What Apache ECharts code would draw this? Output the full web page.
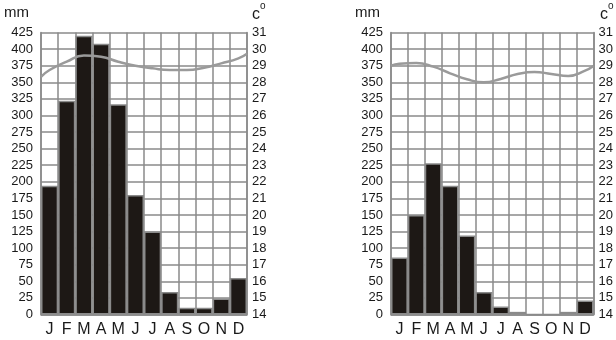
<!DOCTYPE html>
<html><head><meta charset="utf-8">
<script src="https://cdn.jsdelivr.net/npm/echarts@6/dist/echarts.min.js"></script>
<style>html,body{margin:0;padding:0;background:#fff}#c{width:616px;height:340px}</style>
</head><body><div id="c"></div>
<script>
var months = ['J','F','M','A','M','J','J','A','S','O','N','D'];
var mmTicks = [0,25,50,75,100,125,150,175,200,225,250,275,300,325,350,375,400,425];
var rainLeft = [194,322,420,408,317,180,125,34,10,10,24,55];
var rainRight = [86,150,228,194,119,34,12,4,0,0,4,21];
// temperature curve points: [month position, °C] (0 and 12 are the plot edges)
var tempLeft = [[0,28.33],[0.5,28.74],[1.5,29.24],[2.5,29.62],[3.5,29.54],[4.5,29.24],[5.5,29.0],[6.5,28.84],[7.5,28.74],[8.5,28.74],[9.5,28.88],[10.5,29.14],[11.5,29.44],[12,29.72]];
var tempRight = [[0,29.0],[0.5,29.12],[1.5,29.16],[2.5,28.94],[3.5,28.54],[4.5,28.18],[5.5,28.0],[6.5,28.2],[7.5,28.5],[8.5,28.62],[9.5,28.5],[10.5,28.38],[11.5,28.7],[12,28.98]];

var GRID = '#8a8a8a', BAR = '#1d1815', LINE = '#9a9a9a', TXT = '#1a1a1a';
var FONT = 'Liberation Sans, Arial, sans-serif';
var grids = [
  {left:41, top:32.5, width:206, height:282},
  {left:391, top:32.5, width:205, height:282}
];
var xAxes = [], yAxes = [], series = [];
[rainLeft, rainRight].forEach(function(rain, i){
  xAxes.push({type:'category', gridIndex:i, data:months, boundaryGap:true,
    axisLine:{show:true, lineStyle:{color:GRID, width:1.5}}, axisTick:{show:false},
    axisLabel:{color:TXT, fontSize:16, fontFamily:FONT, margin:7, interval:0},
    splitLine:{show:true, interval:0, lineStyle:{color:GRID, width:1.5}}, z:0});
  xAxes.push({type:'value', gridIndex:i, min:0, max:12, show:false});
  yAxes.push({type:'value', gridIndex:i, min:0, max:425, interval:25, position:'left',
    axisLine:{show:true, lineStyle:{color:GRID, width:1.5}}, axisTick:{show:false},
    axisLabel:{color:TXT, fontSize:13, fontFamily:FONT, margin:8},
    splitLine:{show:true, lineStyle:{color:GRID, width:1.5}}});
  yAxes.push({type:'value', gridIndex:i, min:14, max:31, interval:1, position:'right',
    axisLine:{show:true, lineStyle:{color:GRID, width:1.5}}, axisTick:{show:false},
    axisLabel:{color:TXT, fontSize:13, fontFamily:FONT, margin:5},
    splitLine:{show:false}});
  series.push({type:'bar', xAxisIndex:2*i, yAxisIndex:2*i, data:rain, barWidth:'100%',
    itemStyle:{color:BAR, borderColor:GRID, borderWidth:1.5}, z:2, silent:true});
});
series.push({type:'line', xAxisIndex:1, yAxisIndex:1, data:tempLeft, smooth:true, symbol:'none',
  lineStyle:{color:LINE, width:2.5}, z:3});
series.push({type:'line', xAxisIndex:3, yAxisIndex:3, data:tempRight, smooth:true, symbol:'none',
  lineStyle:{color:LINE, width:2.5}, z:3});

function unitLabels(xmm, xc){
  return [
    {type:'text', left:xmm, top:5, style:{text:'mm', font:'15px '+FONT, fill:TXT}},
    {type:'text', left:xc, top:7, style:{text:'c', font:'16px '+FONT, fill:TXT}},
    {type:'text', left:xc+8, top:1, style:{text:'o', font:'10px '+FONT, fill:TXT}}
  ];
}
var chart = echarts.init(document.getElementById('c'), null, {renderer:'canvas'});
chart.setOption({
  animation:false,
  grid:grids, xAxis:xAxes, yAxis:yAxes, series:series,
  graphic:unitLabels(4, 252).concat(unitLabels(355, 600))
});
</script></body></html>
